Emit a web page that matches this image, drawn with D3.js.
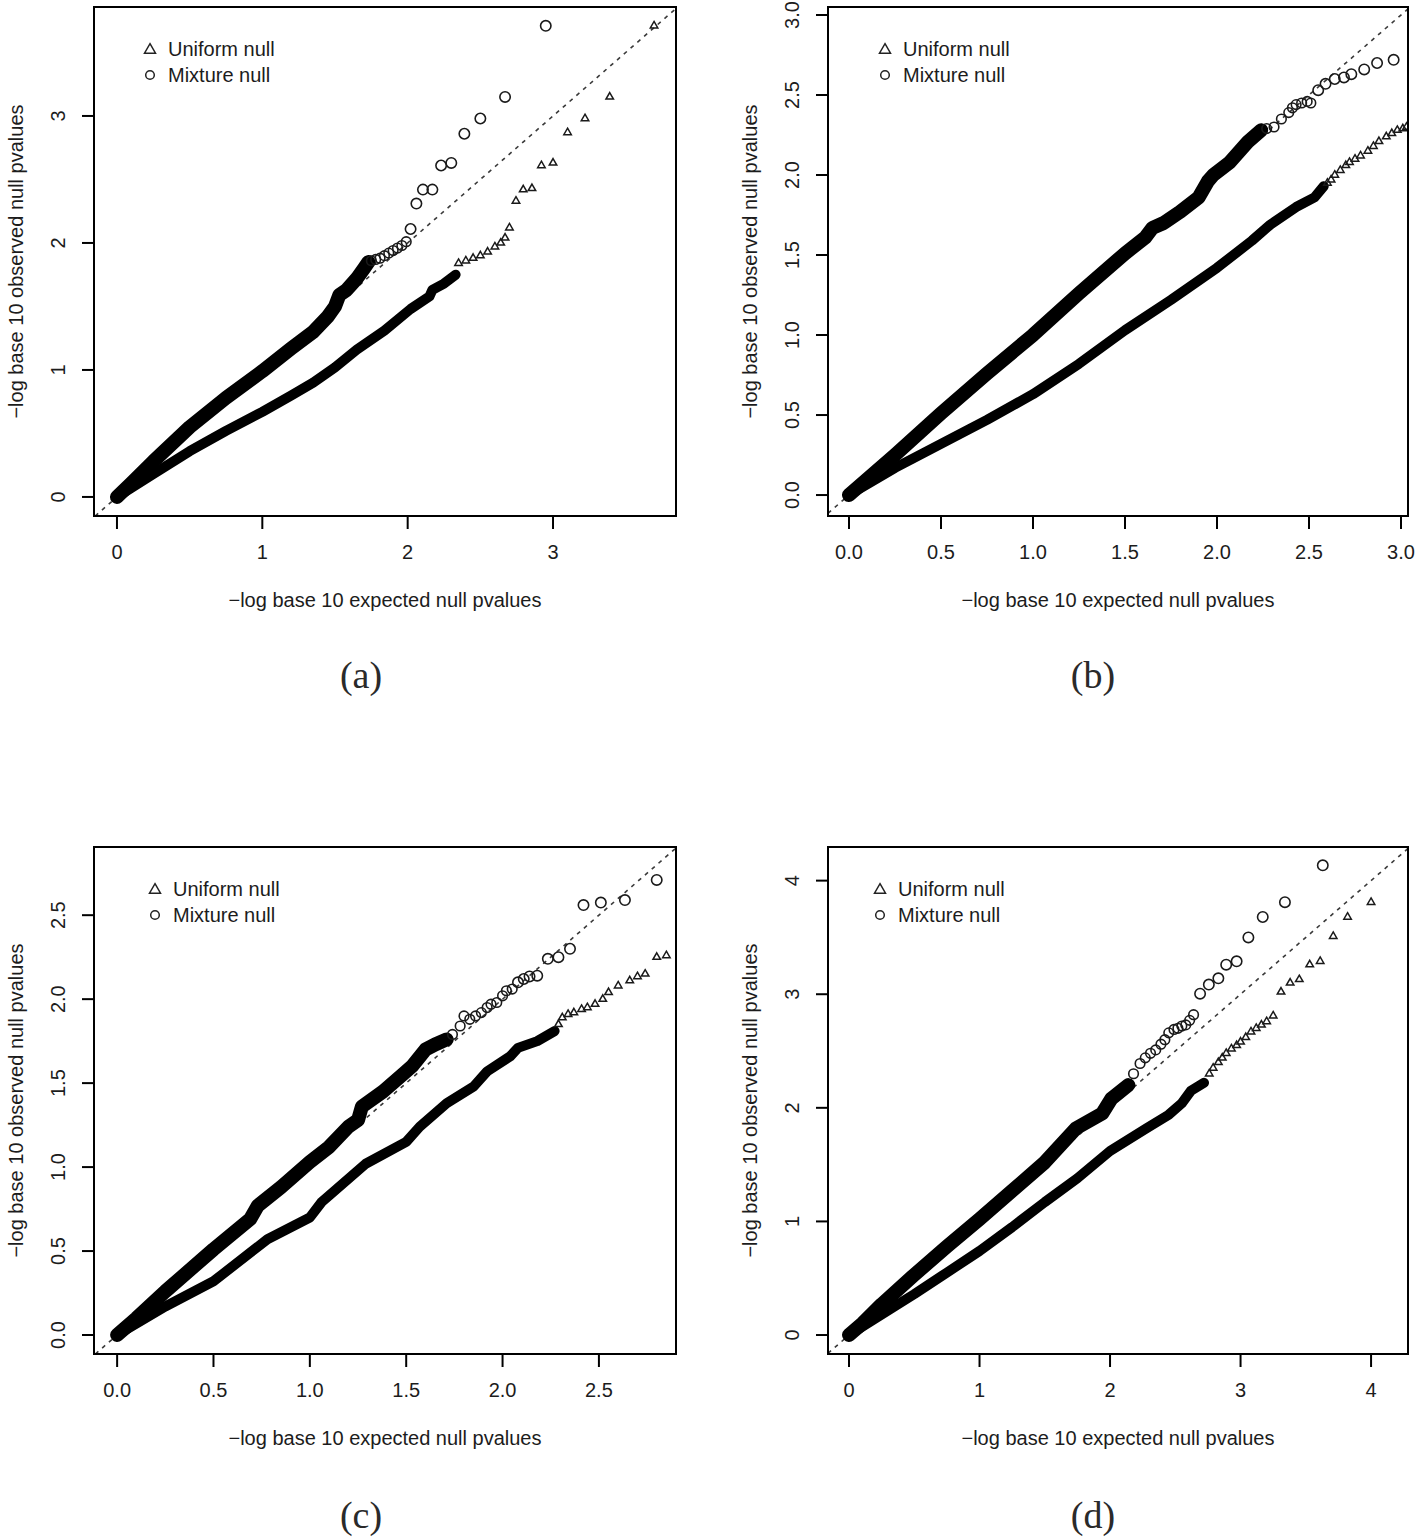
<!doctype html>
<html>
<head>
<meta charset="utf-8">
<style>
  body { margin: 0; background: #fff; }
  svg { display: block; }
  .tick-label, .axis-title, .legend-text {
    font-family: "Liberation Sans", Arial, sans-serif;
    font-size: 20px;
    fill: #1c1c1c;
  }
  .caption {
    font-family: "Liberation Serif", "DejaVu Serif", serif;
    font-size: 38px;
    fill: #2a2a2a;
  }
</style>
<script src="https://d3js.org/d3.v7.min.js"></script>
</head>
<body>
<script>
// ---- data ----
// each series: a dense run (drawn as a thick band), a semi-dense run and the sparse tail (single symbols)

// panel (a)
var xTicksA = [0, 1, 2, 3];
var yTicksA = [0, 1, 2, 3];
var mixLineA = [[0,0],[0.1,0.11],[0.25,0.28],[0.5,0.55],[0.75,0.78],[1.0,0.99],[1.2,1.17],[1.35,1.30],[1.45,1.42],[1.5,1.50],[1.53,1.59],[1.58,1.63],[1.65,1.72],[1.70,1.80],[1.73,1.85]];
var mixSemiA = [[1.75,1.86],[1.78,1.87],[1.81,1.88],[1.84,1.90],[1.87,1.92],[1.90,1.94],[1.93,1.96],[1.96,1.98],[1.99,2.01]];
var mixTailA = [[2.02,2.11],[2.06,2.31],[2.105,2.42],[2.17,2.42],[2.23,2.61],[2.30,2.63],[2.39,2.86],[2.50,2.98],[2.67,3.15],[2.95,3.71]];
var uniLineA = [[0,0],[0.25,0.18],[0.5,0.36],[0.75,0.52],[1.0,0.67],[1.2,0.80],[1.35,0.90],[1.5,1.02],[1.65,1.16],[1.84,1.31],[2.02,1.48],[2.15,1.58],[2.17,1.63],[2.25,1.68],[2.33,1.75]];
var uniSemiA = [[2.35,1.84],[2.40,1.86],[2.45,1.88],[2.50,1.90],[2.55,1.93],[2.60,1.97],[2.64,2.00],[2.67,2.04]];
var uniTailA = [[2.70,2.12],[2.745,2.33],[2.795,2.42],[2.855,2.43],[2.92,2.61],[3.0,2.63],[3.10,2.87],[3.22,2.98],[3.39,3.15],[3.695,3.71]];

// panel (b)
var xTicksB = [0, 0.5, 1, 1.5, 2, 2.5, 3];
var yTicksB = [0, 0.5, 1, 1.5, 2, 2.5, 3];
var mixLineB = [[0,0],[0.1,0.1],[0.25,0.25],[0.5,0.51],[0.75,0.76],[1.0,1.0],[1.25,1.26],[1.5,1.51],[1.61,1.61],[1.65,1.67],[1.71,1.70],[1.80,1.77],[1.90,1.86],[1.95,1.96],[1.98,2.0],[2.07,2.08],[2.17,2.21],[2.24,2.28]];
var mixSemiB = [[2.27,2.29],[2.31,2.30],[2.35,2.35],[2.39,2.39],[2.41,2.42],[2.43,2.44],[2.46,2.45],[2.49,2.46],[2.51,2.45]];
var mixTailB = [[2.55,2.53],[2.59,2.57],[2.64,2.60],[2.69,2.61],[2.73,2.63],[2.80,2.66],[2.87,2.70],[2.96,2.72]];
var uniLineB = [[0,0],[0.25,0.17],[0.5,0.32],[0.75,0.47],[1.0,0.63],[1.25,0.82],[1.5,1.03],[1.75,1.22],[2.0,1.42],[2.19,1.59],[2.29,1.69],[2.43,1.80],[2.53,1.86],[2.58,1.93]];
var uniSemiB = [[2.60,1.95],[2.62,1.97],[2.64,2.0],[2.67,2.03],[2.70,2.06],[2.72,2.08],[2.75,2.10],[2.78,2.12],[2.82,2.15],[2.85,2.18],[2.88,2.21],[2.92,2.24],[2.95,2.26],[2.98,2.28],[3.01,2.29],[3.03,2.30]];
var uniTailB = [];

// panel (c)
var xTicksC = [0, 0.5, 1, 1.5, 2, 2.5];
var yTicksC = [0, 0.5, 1, 1.5, 2, 2.5];
var mixLineC = [[0,0],[0.1,0.1],[0.25,0.26],[0.5,0.51],[0.69,0.69],[0.73,0.77],[0.85,0.88],[1.0,1.03],[1.1,1.12],[1.2,1.24],[1.25,1.28],[1.27,1.36],[1.38,1.45],[1.48,1.55],[1.53,1.60],[1.60,1.70],[1.65,1.73],[1.71,1.76]];
var mixSemiC = [[1.74,1.79],[1.78,1.84],[1.80,1.90],[1.83,1.88],[1.86,1.90],[1.89,1.92],[1.92,1.95],[1.94,1.97],[1.97,1.98],[2.0,2.02],[2.02,2.05],[2.05,2.06]];
var mixTailC = [[2.08,2.10],[2.11,2.12],[2.14,2.135],[2.18,2.14],[2.235,2.24],[2.29,2.25],[2.35,2.30],[2.42,2.56],[2.51,2.575],[2.635,2.59],[2.80,2.71]];
var uniLineC = [[0,0],[0.25,0.17],[0.5,0.32],[0.78,0.57],[1.0,0.70],[1.06,0.79],[1.29,1.02],[1.50,1.15],[1.57,1.24],[1.71,1.38],[1.85,1.48],[1.92,1.57],[2.04,1.66],[2.08,1.71],[2.18,1.75],[2.27,1.81]];
var uniSemiC = [[2.29,1.85],[2.31,1.89],[2.34,1.91],[2.37,1.92],[2.41,1.94],[2.44,1.95]];
var uniTailC = [[2.48,1.97],[2.52,2.00],[2.55,2.04],[2.60,2.08],[2.66,2.11],[2.70,2.135],[2.74,2.15],[2.80,2.25],[2.85,2.26]];

// panel (d)
var xTicksD = [0, 1, 2, 3, 4];
var yTicksD = [0, 1, 2, 3, 4];
var mixLineD = [[0,0],[0.1,0.1],[0.25,0.27],[0.5,0.53],[0.75,0.78],[1.0,1.02],[1.25,1.27],[1.5,1.52],[1.74,1.82],[1.94,1.95],[2.01,2.08],[2.14,2.20]];
var mixSemiD = [[2.18,2.30],[2.23,2.39],[2.27,2.44],[2.31,2.48],[2.35,2.51],[2.39,2.56],[2.42,2.60],[2.45,2.66],[2.49,2.69],[2.52,2.70],[2.55,2.72],[2.58,2.73],[2.61,2.77],[2.64,2.82]];
var mixTailD = [[2.69,3.005],[2.757,3.085],[2.83,3.14],[2.89,3.26],[2.97,3.29],[3.06,3.50],[3.17,3.68],[3.34,3.81],[3.63,4.135]];
var uniLineD = [[0,0],[0.25,0.18],[0.5,0.36],[0.75,0.55],[1.0,0.74],[1.25,0.95],[1.5,1.17],[1.75,1.38],[2.0,1.62],[2.28,1.82],[2.45,1.94],[2.55,2.04],[2.62,2.15],[2.72,2.22]];
var uniSemiD = [[2.76,2.30],[2.79,2.35],[2.83,2.40],[2.86,2.44],[2.89,2.48],[2.93,2.52],[2.97,2.55],[3.0,2.58],[3.04,2.62],[3.08,2.67],[3.12,2.70],[3.16,2.73],[3.20,2.76],[3.25,2.81]];
var uniTailD = [[3.31,3.02],[3.38,3.10],[3.45,3.13],[3.53,3.26],[3.61,3.29],[3.71,3.51],[3.82,3.68],[4.0,3.81]];

var legendLabels = ["Uniform null", "Mixture null"];
var xTitle = "\u2212log base 10 expected null pvalues";
var yTitle = "\u2212log base 10 observed null pvalues";

// ---- layout ----
var panels = [
  { cap: "(a)", left: 94,  right: 676,  top: 7,   bottom: 516,  capX: 361,
    xDom: [-0.158, 3.846], yDom: [-0.15, 3.858], fmt: d3.format("d"),
    xTicks: xTicksA, yTicks: yTicksA, mixLine: mixLineA, mixSemi: mixSemiA, mixTail: mixTailA,
    uniLine: uniLineA, uniSemi: uniSemiA, uniTail: uniTailA, legX: 150 },
  { cap: "(b)", left: 828, right: 1408, top: 7,   bottom: 516,  capX: 1093,
    xDom: [-0.114, 3.038], yDom: [-0.131, 3.05], fmt: d3.format(".1f"),
    xTicks: xTicksB, yTicks: yTicksB, mixLine: mixLineB, mixSemi: mixSemiB, mixTail: mixTailB,
    uniLine: uniLineB, uniSemi: uniSemiB, uniTail: uniTailB, legX: 885 },
  { cap: "(c)", left: 94,  right: 676,  top: 847, bottom: 1354, capX: 361,
    xDom: [-0.12, 2.90], yDom: [-0.113, 2.906], fmt: d3.format(".1f"),
    xTicks: xTicksC, yTicks: yTicksC, mixLine: mixLineC, mixSemi: mixSemiC, mixTail: mixTailC,
    uniLine: uniLineC, uniSemi: uniSemiC, uniTail: uniTailC, legX: 155 },
  { cap: "(d)", left: 828, right: 1408, top: 847, bottom: 1354, capX: 1093,
    xDom: [-0.161, 4.283], yDom: [-0.167, 4.296], fmt: d3.format("d"),
    xTicks: xTicksD, yTicks: yTicksD, mixLine: mixLineD, mixSemi: mixSemiD, mixTail: mixTailD,
    uniLine: uniLineD, uniSemi: uniSemiD, uniTail: uniTailD, legX: 880 }
];

var svg = d3.select("body").append("svg")
    .attr("width", 1416)
    .attr("height", 1539);

function triPath(s) {
  var h = s * Math.sqrt(3) / 2;
  return "M0," + (-h * 2 / 3) + "L" + (s / 2) + "," + (h / 3) + "L" + (-s / 2) + "," + (h / 3) + "Z";
}

panels.forEach(function(p, i) {
  var x = d3.scaleLinear().domain(p.xDom).range([p.left, p.right]);
  var y = d3.scaleLinear().domain(p.yDom).range([p.bottom, p.top]);
  var g = svg.append("g");

  var clipId = "clip" + i;
  svg.append("clipPath").attr("id", clipId)
    .append("rect")
    .attr("x", p.left).attr("y", p.top)
    .attr("width", p.right - p.left).attr("height", p.bottom - p.top);

  var plot = g.append("g").attr("clip-path", "url(#" + clipId + ")");

  // y = x reference line
  var lo = Math.max(p.xDom[0], p.yDom[0]), hi = Math.min(p.xDom[1], p.yDom[1]);
  plot.append("line")
    .attr("x1", x(lo)).attr("y1", y(lo))
    .attr("x2", x(hi)).attr("y2", y(hi))
    .attr("stroke", "#3a3a3a")
    .attr("stroke-width", 1.6)
    .attr("stroke-dasharray", "4,5");

  var line = d3.line().x(function(d) { return x(d[0]); }).y(function(d) { return y(d[1]); });

  // dense runs
  plot.append("path").datum(p.uniLine)
    .attr("d", line).attr("fill", "none").attr("stroke", "#000")
    .attr("stroke-width", 10).attr("stroke-linejoin", "round").attr("stroke-linecap", "round");
  plot.append("path").datum(p.mixLine)
    .attr("d", line).attr("fill", "none").attr("stroke", "#000")
    .attr("stroke-width", 14).attr("stroke-linejoin", "round").attr("stroke-linecap", "round");

  // triangles (uniform null)
  plot.selectAll(".tri").data(p.uniSemi.concat(p.uniTail))
    .enter().append("path")
    .attr("transform", function(d) { return "translate(" + x(d[0]) + "," + y(d[1]) + ")"; })
    .attr("d", triPath(7.5))
    .attr("fill", "none").attr("stroke", "#1a1a1a").attr("stroke-width", 1.5);

  // circles (mixture null)
  plot.selectAll(".semi").data(p.mixSemi)
    .enter().append("circle")
    .attr("cx", function(d) { return x(d[0]); })
    .attr("cy", function(d) { return y(d[1]); })
    .attr("r", 4.8)
    .attr("fill", "none").attr("stroke", "#1a1a1a").attr("stroke-width", 1.6);
  plot.selectAll(".tail").data(p.mixTail)
    .enter().append("circle")
    .attr("cx", function(d) { return x(d[0]); })
    .attr("cy", function(d) { return y(d[1]); })
    .attr("r", 5.2)
    .attr("fill", "none").attr("stroke", "#1a1a1a").attr("stroke-width", 1.6);

  // box
  g.append("rect")
    .attr("x", p.left).attr("y", p.top)
    .attr("width", p.right - p.left).attr("height", p.bottom - p.top)
    .attr("fill", "none").attr("stroke", "#000").attr("stroke-width", 2);

  // x axis
  g.selectAll(".xt").data(p.xTicks).enter().append("line")
    .attr("x1", function(d) { return x(d); }).attr("x2", function(d) { return x(d); })
    .attr("y1", p.bottom).attr("y2", p.bottom + 13)
    .attr("stroke", "#000").attr("stroke-width", 2);
  g.selectAll(".xl").data(p.xTicks).enter().append("text")
    .attr("class", "tick-label")
    .attr("x", function(d) { return x(d); })
    .attr("y", p.bottom + 43)
    .attr("text-anchor", "middle")
    .text(p.fmt);

  // y axis
  g.selectAll(".yt").data(p.yTicks).enter().append("line")
    .attr("y1", function(d) { return y(d); }).attr("y2", function(d) { return y(d); })
    .attr("x1", p.left).attr("x2", p.left - 12)
    .attr("stroke", "#000").attr("stroke-width", 2);
  g.selectAll(".yl").data(p.yTicks).enter().append("text")
    .attr("class", "tick-label")
    .attr("transform", function(d) { return "translate(" + (p.left - 29) + "," + y(d) + ") rotate(-90)"; })
    .attr("text-anchor", "middle")
    .text(p.fmt);

  // axis titles
  g.append("text").attr("class", "axis-title")
    .attr("x", (p.left + p.right) / 2)
    .attr("y", p.bottom + 91)
    .attr("text-anchor", "middle")
    .text(xTitle);
  g.append("text").attr("class", "axis-title")
    .attr("transform", "translate(" + (p.left - 71) + "," + ((p.top + p.bottom) / 2) + ") rotate(-90)")
    .attr("text-anchor", "middle")
    .text(yTitle);

  // legend
  var ly = p.top + 42;
  g.append("path")
    .attr("transform", "translate(" + p.legX + "," + (ly + 1) + ")")
    .attr("d", triPath(11))
    .attr("fill", "none").attr("stroke", "#222").attr("stroke-width", 1.5);
  g.append("circle")
    .attr("cx", p.legX).attr("cy", ly + 26).attr("r", 4.3)
    .attr("fill", "none").attr("stroke", "#222").attr("stroke-width", 1.5);
  g.selectAll(".lg").data(legendLabels).enter().append("text")
    .attr("class", "legend-text")
    .attr("x", p.legX + 18)
    .attr("y", function(d, k) { return ly + 7 + k * 26; })
    .text(function(d) { return d; });

  // sub-caption
  svg.append("text").attr("class", "caption")
    .attr("x", p.capX)
    .attr("y", p.top + 681)
    .attr("text-anchor", "middle")
    .text(p.cap);
});
</script>
</body>
</html>
